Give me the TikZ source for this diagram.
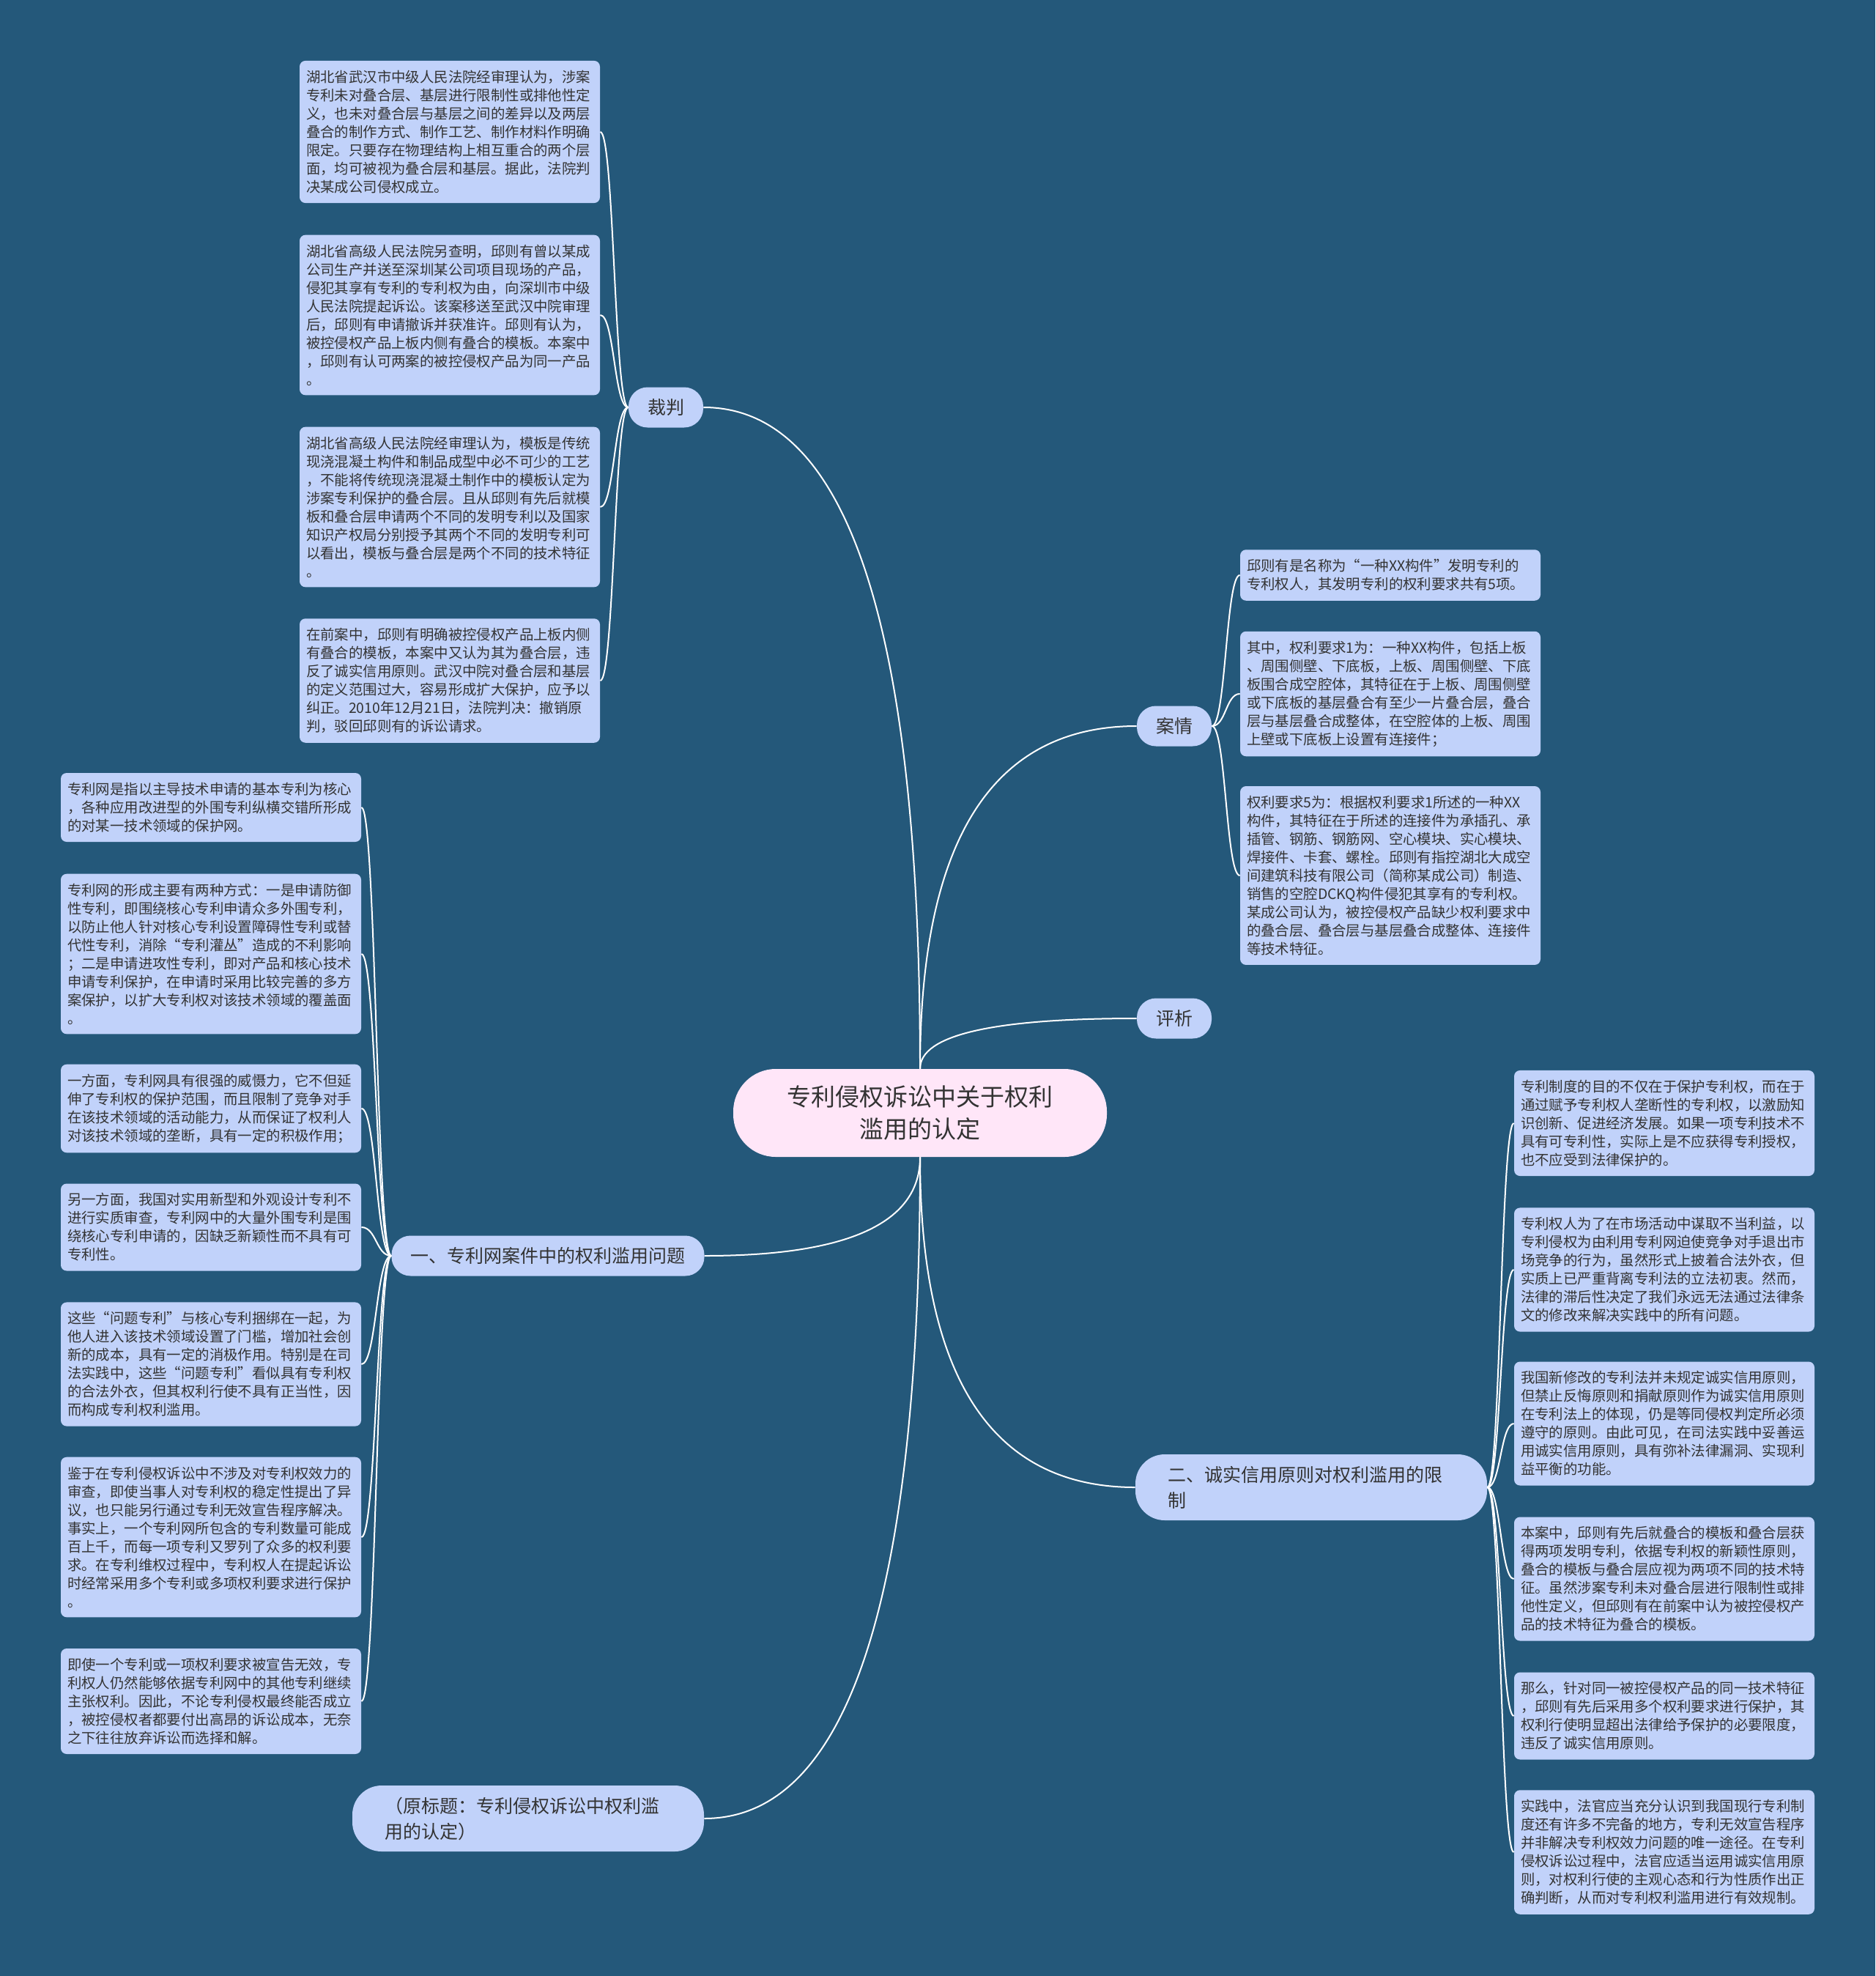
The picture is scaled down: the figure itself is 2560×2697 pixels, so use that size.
\documentclass[tikz,border=0pt]{standalone}
\usepackage{fontspec}
\setmainfont{Noto Sans CJK SC}
\usetikzlibrary{calc}

\definecolor{bgblue}{RGB}{36,88,122}
\definecolor{leafblue}{RGB}{193,210,250}
\definecolor{rootpink}{RGB}{255,230,248}
\definecolor{txtgray}{RGB}{51,51,51}

\begin{document}
\begin{tikzpicture}[
          x=0.5pt, y=-0.5pt,
          every node/.style={text=txtgray},
          root/.style={fill=rootpink, rounded corners=29pt, minimum width=255pt, minimum height=60pt, align=center, font=\fontsize{16.5}{22}\selectfont},
          topic/.style={fill=leafblue, rounded corners=13pt, minimum height=27.5pt, inner xsep=13pt, font=\fontsize{12.5}{17.5}\selectfont},
          longtopic/.style={topic, rounded corners=20pt, text width=196pt, inner xsep=22pt, minimum height=45pt, align=left},
          leaf/.style={fill=leafblue, rounded corners=4pt, text width=196pt, inner xsep=4.5pt, inner ysep=6.5pt, align=left, font=\fontsize{9.7}{12.5}\selectfont},
          link/.style={draw=white, line width=1pt},
          trunk/.style={to path={.. controls ($(\tikztostart)!0.667!(\tikztostart |- \tikztotarget)$) and ($(\tikztotarget)!0.667!(\tikztostart |- \tikztotarget)$) .. (\tikztotarget)}},
          twig/.style={to path={.. controls ($(\tikztostart)!0.5!(\tikztostart -| \tikztotarget)$) and ($(\tikztotarget)!0.5!(\tikztotarget -| \tikztostart)$) .. (\tikztotarget)}}
      ]
        \useasboundingbox (0,0) rectangle (2560,2697);
        \fill[bgblue] (0,0) rectangle (2560,2697);

        % centre and main branches
        \node[root] (root) at (1256,1519) {专利侵权诉讼中关于权利\\滥用的认定};
        \node[topic] (cp) at (909,556) {裁判};
        \node[topic] (aq) at (1603,991) {案情};
        \node[topic] (px) at (1603,1390) {评析};
        \node[topic] (w1) at (748,1714) {一、专利网案件中的权利滥用问题};
        \node[longtopic] (cx) at (1790,2030) {二、诚实信用原则对权利滥用的限\\制};
        \node[longtopic] (yt) at (721,2482) {（原标题：专利侵权诉讼中权利滥\\用的认定）};

        % 裁判
        \node[leaf] (c1) at (614,180) {湖北省武汉市中级人民法院经审理认为，涉案\\专利未对叠合层、基层进行限制性或排他性定\\义，也未对叠合层与基层之间的差异以及两层\\叠合的制作方式、制作工艺、制作材料作明确\\限定。只要存在物理结构上相互重合的两个层\\面，均可被视为叠合层和基层。据此，法院判\\决某成公司侵权成立。};
        \node[leaf] (c2) at (614,430) {湖北省高级人民法院另查明，邱则有曾以某成\\公司生产并送至深圳某公司项目现场的产品，\\侵犯其享有专利的专利权为由，向深圳市中级\\人民法院提起诉讼。该案移送至武汉中院审理\\后，邱则有申请撤诉并获准许。邱则有认为，\\被控侵权产品上板内侧有叠合的模板。本案中\\，邱则有认可两案的被控侵权产品为同一产品\\。};
        \node[leaf] (c3) at (614,692) {湖北省高级人民法院经审理认为，模板是传统\\现浇混凝土构件和制品成型中必不可少的工艺\\，不能将传统现浇混凝土制作中的模板认定为\\涉案专利保护的叠合层。且从邱则有先后就模\\板和叠合层申请两个不同的发明专利以及国家\\知识产权局分别授予其两个不同的发明专利可\\以看出，模板与叠合层是两个不同的技术特征\\。};
        \node[leaf] (c4) at (614,929) {在前案中，邱则有明确被控侵权产品上板内侧\\有叠合的模板，本案中又认为其为叠合层，违\\反了诚实信用原则。武汉中院对叠合层和基层\\的定义范围过大，容易形成扩大保护，应予以\\纠正。2010年12月21日，法院判决：撤销原\\判，驳回邱则有的诉讼请求。};

        % 案情
        \node[leaf] (q1) at (1898,785) {邱则有是名称为“一种XX构件”发明专利的\\专利权人，其发明专利的权利要求共有5项。};
        \node[leaf] (q2) at (1898,947) {其中，权利要求1为：一种XX构件，包括上板\\、周围侧壁、下底板，上板、周围侧壁、下底\\板围合成空腔体，其特征在于上板、周围侧壁\\或下底板的基层叠合有至少一片叠合层，叠合\\层与基层叠合成整体，在空腔体的上板、周围\\上壁或下底板上设置有连接件；};
        \node[leaf] (q3) at (1898,1195) {权利要求5为：根据权利要求1所述的一种XX\\构件，其特征在于所述的连接件为承插孔、承\\插管、钢筋、钢筋网、空心模块、实心模块、\\焊接件、卡套、螺栓。邱则有指控湖北大成空\\间建筑科技有限公司（简称某成公司）制造、\\销售的空腔DCKQ构件侵犯其享有的专利权。\\某成公司认为，被控侵权产品缺少权利要求中\\的叠合层、叠合层与基层叠合成整体、连接件\\等技术特征。};

        % 一、专利网
        \node[leaf] (a1) at (288,1102) {专利网是指以主导技术申请的基本专利为核心\\，各种应用改进型的外围专利纵横交错所形成\\的对某一技术领域的保护网。};
        \node[leaf] (a2) at (288,1302) {专利网的形成主要有两种方式：一是申请防御\\性专利，即围绕核心专利申请众多外围专利，\\以防止他人针对核心专利设置障碍性专利或替\\代性专利，消除“专利灌丛”造成的不利影响\\；二是申请进攻性专利，即对产品和核心技术\\申请专利保护，在申请时采用比较完善的多方\\案保护，以扩大专利权对该技术领域的覆盖面\\。};
        \node[leaf] (a3) at (288,1513) {一方面，专利网具有很强的威慑力，它不但延\\伸了专利权的保护范围，而且限制了竞争对手\\在该技术领域的活动能力，从而保证了权利人\\对该技术领域的垄断，具有一定的积极作用；};
        \node[leaf] (a4) at (288,1675) {另一方面，我国对实用新型和外观设计专利不\\进行实质审查，专利网中的大量外围专利是围\\绕核心专利申请的，因缺乏新颖性而不具有可\\专利性。};
        \node[leaf] (a5) at (288,1862) {这些“问题专利”与核心专利捆绑在一起，为\\他人进入该技术领域设置了门槛，增加社会创\\新的成本，具有一定的消极作用。特别是在司\\法实践中，这些“问题专利”看似具有专利权\\的合法外衣，但其权利行使不具有正当性，因\\而构成专利权利滥用。};
        \node[leaf] (a6) at (288,2098) {鉴于在专利侵权诉讼中不涉及对专利权效力的\\审查，即使当事人对专利权的稳定性提出了异\\议，也只能另行通过专利无效宣告程序解决。\\事实上，一个专利网所包含的专利数量可能成\\百上千，而每一项专利又罗列了众多的权利要\\求。在专利维权过程中，专利权人在提起诉讼\\时经常采用多个专利或多项权利要求进行保护\\。};
        \node[leaf] (a7) at (288,2322) {即使一个专利或一项权利要求被宣告无效，专\\利权人仍然能够依据专利网中的其他专利继续\\主张权利。因此，不论专利侵权最终能否成立\\，被控侵权者都要付出高昂的诉讼成本，无奈\\之下往往放弃诉讼而选择和解。};

        % 二、诚实信用
        \node[leaf] (b1) at (2272,1533) {专利制度的目的不仅在于保护专利权，而在于\\通过赋予专利权人垄断性的专利权，以激励知\\识创新、促进经济发展。如果一项专利技术不\\具有可专利性，实际上是不应获得专利授权，\\也不应受到法律保护的。};
        \node[leaf] (b2) at (2272,1733) {专利权人为了在市场活动中谋取不当利益，以\\专利侵权为由利用专利网迫使竞争对手退出市\\场竞争的行为，虽然形式上披着合法外衣，但\\实质上已严重背离专利法的立法初衷。然而，\\法律的滞后性决定了我们永远无法通过法律条\\文的修改来解决实践中的所有问题。};
        \node[leaf] (b3) at (2272,1943) {我国新修改的专利法并未规定诚实信用原则，\\但禁止反悔原则和捐献原则作为诚实信用原则\\在专利法上的体现，仍是等同侵权判定所必须\\遵守的原则。由此可见，在司法实践中妥善运\\用诚实信用原则，具有弥补法律漏洞、实现利\\益平衡的功能。};
        \node[leaf] (b4) at (2272,2155) {本案中，邱则有先后就叠合的模板和叠合层获\\得两项发明专利，依据专利权的新颖性原则，\\叠合的模板与叠合层应视为两项不同的技术特\\征。虽然涉案专利未对叠合层进行限制性或排\\他性定义，但邱则有在前案中认为被控侵权产\\品的技术特征为叠合的模板。};
        \node[leaf] (b5) at (2272,2342) {那么，针对同一被控侵权产品的同一技术特征\\，邱则有先后采用多个权利要求进行保护，其\\权利行使明显超出法律给予保护的必要限度，\\违反了诚实信用原则。};
        \node[leaf] (b6) at (2272,2528) {实践中，法官应当充分认识到我国现行专利制\\度还有许多不完备的地方，专利无效宣告程序\\并非解决专利权效力问题的唯一途径。在专利\\侵权诉讼过程中，法官应适当运用诚实信用原\\则，对权利行使的主观心态和行为性质作出正\\确判断，从而对专利权利滥用进行有效规制。};

        % connectors
        \draw[link] (root.north) to[trunk] (cp.east);
        \draw[link] (root.north) to[trunk] (aq.west);
        \draw[link] (root.north) to[trunk] (px.west);
        \draw[link] (root.south) to[trunk] (w1.east);
        \draw[link] (root.south) to[trunk] (cx.west);
        \draw[link] (root.south) to[trunk] (yt.east);

        \draw[link] (cp.west) to[twig] (c1.east);
        \draw[link] (cp.west) to[twig] (c2.east);
        \draw[link] (cp.west) to[twig] (c3.east);
        \draw[link] (cp.west) to[twig] (c4.east);

        \draw[link] (aq.east) to[twig] (q1.west);
        \draw[link] (aq.east) to[twig] (q2.west);
        \draw[link] (aq.east) to[twig] (q3.west);

        \draw[link] (w1.west) to[twig] (a1.east);
        \draw[link] (w1.west) to[twig] (a2.east);
        \draw[link] (w1.west) to[twig] (a3.east);
        \draw[link] (w1.west) to[twig] (a4.east);
        \draw[link] (w1.west) to[twig] (a5.east);
        \draw[link] (w1.west) to[twig] (a6.east);
        \draw[link] (w1.west) to[twig] (a7.east);

        \draw[link] (cx.east) to[twig] (b1.west);
        \draw[link] (cx.east) to[twig] (b2.west);
        \draw[link] (cx.east) to[twig] (b3.west);
        \draw[link] (cx.east) to[twig] (b4.west);
        \draw[link] (cx.east) to[twig] (b5.west);
        \draw[link] (cx.east) to[twig] (b6.west);
      \end{tikzpicture}
\end{document}
